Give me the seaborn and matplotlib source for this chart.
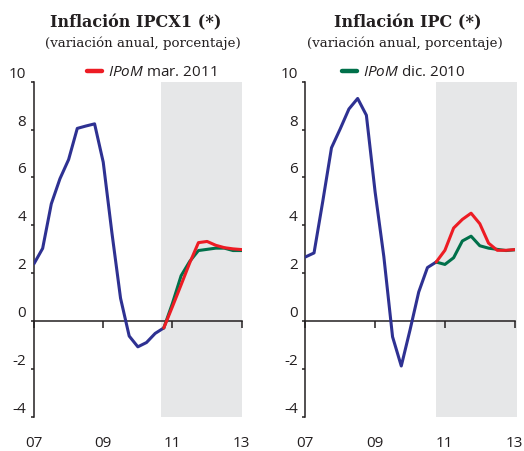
import numpy as np
import pandas as pd
import seaborn as sns
import matplotlib.pyplot as plt
from matplotlib.transforms import ScaledTranslation

# quarterly positions (years)
hist_x = [2007.0, 2007.25, 2007.5, 2007.75, 2008.0, 2008.25, 2008.5, 2008.75,
          2009.0, 2009.25, 2009.5, 2009.75, 2010.0, 2010.25, 2010.5, 2010.75]
fcst_x = [2010.75, 2011.0, 2011.25, 2011.5, 2011.75, 2012.0, 2012.25, 2012.5,
          2012.75, 2013.0]

# Inflación IPCX1
ipcx1_hist = [2.4, 3.04, 4.9, 5.95, 6.75, 8.05, 8.15, 8.24,
              6.64, 3.7, 0.96, -0.62, -1.07, -0.89, -0.51, -0.28]
ipcx1_mar11 = [-0.28, 0.61, 1.52, 2.44, 3.28, 3.33, 3.17, 3.07, 3.02, 2.99]
ipcx1_dic10 = [-0.28, 0.75, 1.9, 2.5, 2.95, 3.0, 3.05, 3.05, 2.95, 2.95]

# Inflación IPC
ipc_hist = [2.68, 2.85, 5.0, 7.24, 8.03, 8.86, 9.3, 8.6,
            5.4, 2.7, -0.65, -1.87, -0.37, 1.22, 2.24, 2.47]
ipc_mar11 = [2.47, 2.96, 3.89, 4.25, 4.51, 4.07, 3.26, 2.96, 2.96, 2.99]
ipc_dic10 = [2.47, 2.37, 2.65, 3.35, 3.55, 3.15, 3.05, 3.0, 2.95, 2.98]

x_ticks = [2007, 2009, 2011, 2013]
x_labels = ['07', '09', '11', '13']
y_ticks = [-4, -2, 0, 2, 4, 6, 8, 10]

BLUE = '#2E3192'
RED = '#ED1C24'
GREEN = '#00704A'
SHADE = '#E6E7E8'
TXT = '#231F20'

sns.set_theme(style='white')
plt.rcParams['font.family'] = ['Open Sans', 'DejaVu Sans']
plt.rcParams['mathtext.fontset'] = 'custom'
plt.rcParams['mathtext.it'] = 'Open Sans:italic'
plt.rcParams['mathtext.rm'] = 'Open Sans'
plt.rcParams['axes.unicode_minus'] = False

W, H = 524, 451
fig = plt.figure(figsize=(W / 100, H / 100), dpi=100)


def px_ax(x0, x1, y0, y1):
    return fig.add_axes([x0 / W, 1 - y1 / H, (x1 - x0) / W, (y1 - y0) / H])


panels = [
    dict(box=(34, 241.7), hist=ipcx1_hist, mar=ipcx1_mar11, dic=ipcx1_dic10,
         shade=(2010.67, 2013.0), leg='mar', leg_x=0.568,
         title='Inflación IPCX1 (*)', tx=135.5, sx=142.8),
    dict(box=(305.3, 514.7), hist=ipc_hist, mar=ipc_mar11, dic=ipc_dic10,
         shade=(2010.75, 2013.07), leg='dic', leg_x=0.471,
         title='Inflación IPC (*)', tx=407.3, sx=404.7),
]

for p in panels:
    ax = px_ax(p['box'][0], p['box'][1], 81.7, 417)
    ax.axvspan(p['shade'][0], p['shade'][1], color=SHADE, lw=0, zorder=0,
               clip_on=False)

    hist = pd.DataFrame({'x': hist_x, 'y': p['hist']})
    dic = pd.DataFrame({'x': fcst_x, 'y': p['dic']})
    mar = pd.DataFrame({'x': fcst_x, 'y': p['mar']})
    sns.lineplot(data=hist, x='x', y='y', color=BLUE, lw=2.2, ax=ax,
                 legend=False, zorder=3)
    sns.lineplot(data=dic, x='x', y='y', color=GREEN, lw=2.2, ax=ax,
                 label=r'$\it{IPoM}$ dic. 2010', zorder=4)
    sns.lineplot(data=mar, x='x', y='y', color=RED, lw=2.2, ax=ax,
                 label=r'$\it{IPoM}$ mar. 2011', zorder=5)

    ax.set_xlim(2007, 2013)
    ax.set_ylim(-4, 10)
    ax.set_xlabel('')
    ax.set_ylabel('')
    ax.set_facecolor('none')

    for s in ['top', 'right']:
        ax.spines[s].set_visible(False)
    ax.spines['left'].set_color(TXT)
    ax.spines['left'].set_linewidth(1.1)
    ax.spines['bottom'].set_position(('data', 0))
    ax.spines['bottom'].set_color(TXT)
    ax.spines['bottom'].set_linewidth(1.1)
    ax.spines['bottom'].set_zorder(2)

    ax.set_xticks(x_ticks)
    ax.set_xticklabels(x_labels)
    ax.set_yticks(y_ticks)
    ax.tick_params(axis='x', direction='out', length=5, width=1.1,
                   color=TXT, labelcolor=TXT, labelsize=11, pad=77.5,
                   bottom=True)
    ax.tick_params(axis='y', direction='out', length=2.5, width=1.1,
                   color=TXT, labelcolor=TXT, labelsize=11, pad=3, left=True)
    off = ScaledTranslation(0, 9.5 / 100, fig.dpi_scale_trans)
    for lab in ax.get_yticklabels():
        lab.set_transform(lab.get_transform() + off)

    handles, labels = ax.get_legend_handles_labels()
    keep = 0 if p['leg'] == 'dic' else 1
    leg = ax.legend([handles[keep]], [labels[keep]], loc='center',
                    bbox_to_anchor=(p['leg_x'], 1.026), frameon=False,
                    fontsize=11, handlelength=0.95, handletextpad=0.4,
                    borderpad=0, borderaxespad=0)
    for ln in leg.get_lines():
        ln.set_linewidth(3.2)
    for t in leg.get_texts():
        t.set_color(TXT)

    fig.text(p['tx'] / W, 1 - 27 / H, p['title'], ha='center', va='baseline',
             family='DejaVu Serif', weight='bold', fontsize=11.5, color=TXT)
    fig.text(p['sx'] / W, 1 - 47 / H, '(variación anual, porcentaje)',
             ha='center', va='baseline', family='DejaVu Serif',
             fontsize=9.6, color=TXT)

fig.savefig('out.png', dpi=100)
